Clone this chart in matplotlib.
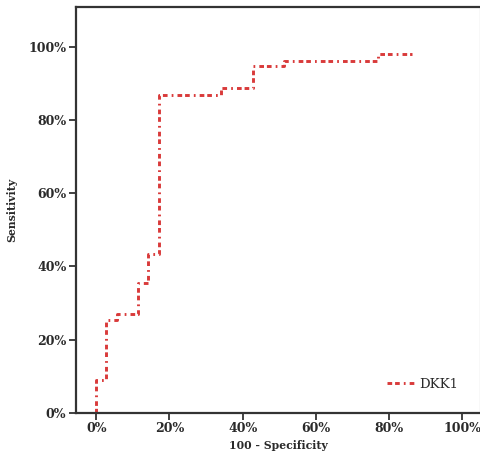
import matplotlib
matplotlib.use("Agg")
import matplotlib.pyplot as plt
from matplotlib.ticker import FuncFormatter

# ROC step curve vertices (steps-pre), values in %
fpr = [0, 2.8, 5.6, 11.5, 14.2, 17.2, 34.2, 42.9, 51.4, 77.0, 86.2]
tpr = [0, 8.9, 25.5, 27.1, 35.5, 43.5, 86.9, 88.9, 94.9, 96.2, 98.1]
series_label = "DKK1"
ticks = [0, 20, 40, 60, 80, 100]

plt.rcParams['font.family'] = ['DejaVu Serif']

fig = plt.figure(figsize=(4.81, 4.63), dpi=100)
ax = fig.add_axes([0.158, 0.1086, 0.84, 0.8764])

ax.plot(fpr, tpr, drawstyle='steps-pre', color='#d93a3a', linewidth=2.1,
        dashes=(1.6, 1.0, 1.6, 1.4, 0.6, 1.4), label=series_label)

ax.set_xlim(-5.5, 104.8)
ax.set_ylim(0, 111)
ax.set_xticks(ticks)
ax.set_yticks(ticks)
fmt = FuncFormatter(lambda v, p: f"{int(v)}%")
ax.xaxis.set_major_formatter(fmt)
ax.yaxis.set_major_formatter(fmt)
for lab in ax.get_xticklabels() + ax.get_yticklabels():
    lab.set_fontsize(9)
    lab.set_fontweight('bold')
    lab.set_color('#2a2a2a')
ax.tick_params(direction='out', length=5, width=1.3, color='#333333', pad=2)

for s in ['left', 'bottom', 'top']:
    ax.spines[s].set_linewidth(1.6)
    ax.spines[s].set_color('#333333')
ax.spines['right'].set_color('#dddddd')
ax.spines['right'].set_linewidth(1.0)

ax.set_xlabel("100 - Specificity", fontsize=7.8, fontweight='bold', labelpad=3,
              color='#2a2a2a')
ax.set_ylabel("Sensitivity", fontsize=7.8, fontweight='bold', labelpad=8,
              color='#2a2a2a')

leg = ax.legend(loc='lower right', frameon=False, fontsize=9.5, handlelength=2.2,
                handletextpad=0.25, bbox_to_anchor=(0.975, 0.025))
for t in leg.get_texts():
    t.set_color('#2a2a2a')

fig.savefig("out.png", dpi=100)
